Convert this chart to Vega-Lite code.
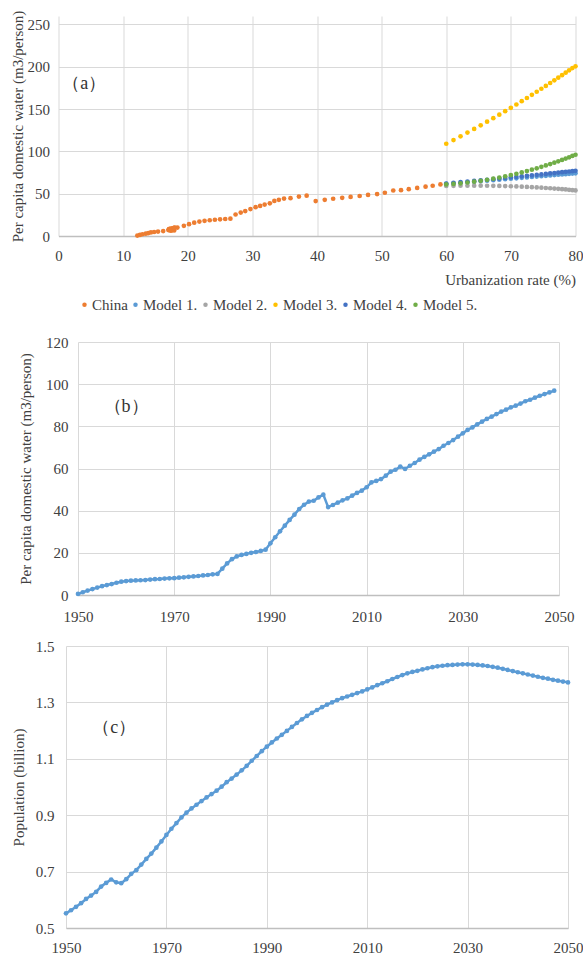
{
  "$schema": "https://vega.github.io/schema/vega-lite/v6.json",
  "padding": {"left": 0, "top": 10, "right": 0, "bottom": 0},
  "background": "white",
  "columns": 1,
  "align": "none",
  "spacing": 15,
  "config": {
    "view": {"stroke": null},
    "font": "Liberation Serif",
    "axis": {
      "labelFont": "Liberation Serif", "labelFontSize": 15, "labelColor": "#404040",
      "titleFont": "Liberation Serif", "titleFontSize": 15, "titleFontWeight": "normal", "titleColor": "#404040",
      "gridColor": "#d9d9d9", "gridWidth": 1, "ticks": false, "tickSize": 0, "domain": false, "labelFlush": false
    },
    "axisX": {"domain": true, "domainColor": "#bfbfbf", "domainWidth": 1.5},
    "legend": {"labelFont": "Liberation Serif", "labelFontSize": 15, "labelColor": "#404040"}
  },
  "datasets": {
    "a": [
      {"series": "China", "rate": 12.2, "water": 0.5},
      {"series": "China", "rate": 12.6, "water": 1.3},
      {"series": "China", "rate": 13.0, "water": 2.1},
      {"series": "China", "rate": 13.5, "water": 2.8},
      {"series": "China", "rate": 13.9, "water": 3.5},
      {"series": "China", "rate": 14.3, "water": 4.2},
      {"series": "China", "rate": 14.8, "water": 4.7},
      {"series": "China", "rate": 15.4, "water": 5.2},
      {"series": "China", "rate": 16.2, "water": 5.8},
      {"series": "China", "rate": 17.4, "water": 6.3},
      {"series": "China", "rate": 17.9, "water": 6.6},
      {"series": "China", "rate": 17.6, "water": 6.8},
      {"series": "China", "rate": 17.2, "water": 6.9},
      {"series": "China", "rate": 17.0, "water": 7.0},
      {"series": "China", "rate": 17.3, "water": 7.1},
      {"series": "China", "rate": 17.4, "water": 7.3},
      {"series": "China", "rate": 17.4, "water": 7.5},
      {"series": "China", "rate": 17.3, "water": 7.6},
      {"series": "China", "rate": 17.2, "water": 7.8},
      {"series": "China", "rate": 17.1, "water": 7.9},
      {"series": "China", "rate": 17.1, "water": 8.0},
      {"series": "China", "rate": 17.2, "water": 8.2},
      {"series": "China", "rate": 17.2, "water": 8.4},
      {"series": "China", "rate": 17.4, "water": 8.6},
      {"series": "China", "rate": 17.5, "water": 8.8},
      {"series": "China", "rate": 17.7, "water": 9.0},
      {"series": "China", "rate": 17.8, "water": 9.3},
      {"series": "China", "rate": 17.9, "water": 9.5},
      {"series": "China", "rate": 18.0, "water": 9.8},
      {"series": "China", "rate": 18.4, "water": 10.0},
      {"series": "China", "rate": 19.4, "water": 12.0},
      {"series": "China", "rate": 20.2, "water": 14.0},
      {"series": "China", "rate": 21.0, "water": 15.8},
      {"series": "China", "rate": 21.8, "water": 17.0},
      {"series": "China", "rate": 22.6, "water": 17.9},
      {"series": "China", "rate": 23.4, "water": 18.6},
      {"series": "China", "rate": 24.2, "water": 19.2},
      {"series": "China", "rate": 25.0, "water": 19.7},
      {"series": "China", "rate": 25.8, "water": 20.1},
      {"series": "China", "rate": 26.6, "water": 20.5},
      {"series": "China", "rate": 27.4, "water": 25.4},
      {"series": "China", "rate": 28.2, "water": 27.7},
      {"series": "China", "rate": 28.9, "water": 29.5},
      {"series": "China", "rate": 29.7, "water": 31.8},
      {"series": "China", "rate": 30.5, "water": 34.1},
      {"series": "China", "rate": 31.2, "water": 35.6},
      {"series": "China", "rate": 31.9, "water": 37.1},
      {"series": "China", "rate": 32.7, "water": 38.6},
      {"series": "China", "rate": 33.4, "water": 41.5},
      {"series": "China", "rate": 34.1, "water": 42.8},
      {"series": "China", "rate": 34.9, "water": 44.2},
      {"series": "China", "rate": 35.9, "water": 44.7},
      {"series": "China", "rate": 37.2, "water": 46.6},
      {"series": "China", "rate": 38.4, "water": 47.7},
      {"series": "China", "rate": 39.8, "water": 41.3},
      {"series": "China", "rate": 41.2, "water": 42.8},
      {"series": "China", "rate": 42.5, "water": 44.0},
      {"series": "China", "rate": 43.9, "water": 45.1},
      {"series": "China", "rate": 45.2, "water": 46.2},
      {"series": "China", "rate": 46.6, "water": 47.3},
      {"series": "China", "rate": 47.9, "water": 48.5},
      {"series": "China", "rate": 49.3, "water": 49.6},
      {"series": "China", "rate": 50.5, "water": 51.1},
      {"series": "China", "rate": 51.8, "water": 53.8},
      {"series": "China", "rate": 53.0, "water": 54.2},
      {"series": "China", "rate": 54.2, "water": 55.3},
      {"series": "China", "rate": 55.5, "water": 56.8},
      {"series": "China", "rate": 56.8, "water": 58.3},
      {"series": "China", "rate": 57.9, "water": 59.4},
      {"series": "China", "rate": 59.1, "water": 61.0},
      {"series": "Model 1.", "rate": 60.00, "water": 61.5},
      {"series": "Model 1.", "rate": 61.12, "water": 62.2},
      {"series": "Model 1.", "rate": 62.21, "water": 62.8},
      {"series": "Model 1.", "rate": 63.28, "water": 63.5},
      {"series": "Model 1.", "rate": 64.32, "water": 64.1},
      {"series": "Model 1.", "rate": 65.33, "water": 64.7},
      {"series": "Model 1.", "rate": 66.32, "water": 65.3},
      {"series": "Model 1.", "rate": 67.28, "water": 65.9},
      {"series": "Model 1.", "rate": 68.21, "water": 66.5},
      {"series": "Model 1.", "rate": 69.12, "water": 67.1},
      {"series": "Model 1.", "rate": 70.00, "water": 67.7},
      {"series": "Model 1.", "rate": 70.85, "water": 68.2},
      {"series": "Model 1.", "rate": 71.68, "water": 68.7},
      {"series": "Model 1.", "rate": 72.48, "water": 69.2},
      {"series": "Model 1.", "rate": 73.25, "water": 69.7},
      {"series": "Model 1.", "rate": 74.00, "water": 70.2},
      {"series": "Model 1.", "rate": 74.72, "water": 70.7},
      {"series": "Model 1.", "rate": 75.41, "water": 71.1},
      {"series": "Model 1.", "rate": 76.08, "water": 71.5},
      {"series": "Model 1.", "rate": 76.72, "water": 72.0},
      {"series": "Model 1.", "rate": 77.33, "water": 72.4},
      {"series": "Model 1.", "rate": 77.92, "water": 72.7},
      {"series": "Model 1.", "rate": 78.48, "water": 73.1},
      {"series": "Model 1.", "rate": 79.01, "water": 73.5},
      {"series": "Model 1.", "rate": 79.52, "water": 73.8},
      {"series": "Model 1.", "rate": 80.00, "water": 74.1},
      {"series": "Model 2.", "rate": 60.00, "water": 59.1},
      {"series": "Model 2.", "rate": 61.12, "water": 59.3},
      {"series": "Model 2.", "rate": 62.21, "water": 59.4},
      {"series": "Model 2.", "rate": 63.28, "water": 59.5},
      {"series": "Model 2.", "rate": 64.32, "water": 59.5},
      {"series": "Model 2.", "rate": 65.33, "water": 59.5},
      {"series": "Model 2.", "rate": 66.32, "water": 59.4},
      {"series": "Model 2.", "rate": 67.28, "water": 59.3},
      {"series": "Model 2.", "rate": 68.21, "water": 59.2},
      {"series": "Model 2.", "rate": 69.12, "water": 59.0},
      {"series": "Model 2.", "rate": 70.00, "water": 58.8},
      {"series": "Model 2.", "rate": 70.85, "water": 58.6},
      {"series": "Model 2.", "rate": 71.68, "water": 58.3},
      {"series": "Model 2.", "rate": 72.48, "water": 58.0},
      {"series": "Model 2.", "rate": 73.25, "water": 57.7},
      {"series": "Model 2.", "rate": 74.00, "water": 57.4},
      {"series": "Model 2.", "rate": 74.72, "water": 57.1},
      {"series": "Model 2.", "rate": 75.41, "water": 56.7},
      {"series": "Model 2.", "rate": 76.08, "water": 56.4},
      {"series": "Model 2.", "rate": 76.72, "water": 56.0},
      {"series": "Model 2.", "rate": 77.33, "water": 55.7},
      {"series": "Model 2.", "rate": 77.92, "water": 55.3},
      {"series": "Model 2.", "rate": 78.48, "water": 55.0},
      {"series": "Model 2.", "rate": 79.01, "water": 54.6},
      {"series": "Model 2.", "rate": 79.52, "water": 54.2},
      {"series": "Model 2.", "rate": 80.00, "water": 53.9},
      {"series": "Model 3.", "rate": 60.00, "water": 109.0},
      {"series": "Model 3.", "rate": 61.12, "water": 113.4},
      {"series": "Model 3.", "rate": 62.21, "water": 117.8},
      {"series": "Model 3.", "rate": 63.28, "water": 122.2},
      {"series": "Model 3.", "rate": 64.32, "water": 126.5},
      {"series": "Model 3.", "rate": 65.33, "water": 130.8},
      {"series": "Model 3.", "rate": 66.32, "water": 135.1},
      {"series": "Model 3.", "rate": 67.28, "water": 139.3},
      {"series": "Model 3.", "rate": 68.21, "water": 143.4},
      {"series": "Model 3.", "rate": 69.12, "water": 147.5},
      {"series": "Model 3.", "rate": 70.00, "water": 151.5},
      {"series": "Model 3.", "rate": 70.85, "water": 155.4},
      {"series": "Model 3.", "rate": 71.68, "water": 159.3},
      {"series": "Model 3.", "rate": 72.48, "water": 163.1},
      {"series": "Model 3.", "rate": 73.25, "water": 166.8},
      {"series": "Model 3.", "rate": 74.00, "water": 170.5},
      {"series": "Model 3.", "rate": 74.72, "water": 174.0},
      {"series": "Model 3.", "rate": 75.41, "water": 177.4},
      {"series": "Model 3.", "rate": 76.08, "water": 180.8},
      {"series": "Model 3.", "rate": 76.72, "water": 184.0},
      {"series": "Model 3.", "rate": 77.33, "water": 187.1},
      {"series": "Model 3.", "rate": 77.92, "water": 190.1},
      {"series": "Model 3.", "rate": 78.48, "water": 193.0},
      {"series": "Model 3.", "rate": 79.01, "water": 195.8},
      {"series": "Model 3.", "rate": 79.52, "water": 198.5},
      {"series": "Model 3.", "rate": 80.00, "water": 200.5},
      {"series": "Model 4.", "rate": 60.00, "water": 62.0},
      {"series": "Model 4.", "rate": 61.12, "water": 62.8},
      {"series": "Model 4.", "rate": 62.21, "water": 63.6},
      {"series": "Model 4.", "rate": 63.28, "water": 64.3},
      {"series": "Model 4.", "rate": 64.32, "water": 65.1},
      {"series": "Model 4.", "rate": 65.33, "water": 65.8},
      {"series": "Model 4.", "rate": 66.32, "water": 66.5},
      {"series": "Model 4.", "rate": 67.28, "water": 67.2},
      {"series": "Model 4.", "rate": 68.21, "water": 67.9},
      {"series": "Model 4.", "rate": 69.12, "water": 68.6},
      {"series": "Model 4.", "rate": 70.00, "water": 69.3},
      {"series": "Model 4.", "rate": 70.85, "water": 69.9},
      {"series": "Model 4.", "rate": 71.68, "water": 70.5},
      {"series": "Model 4.", "rate": 72.48, "water": 71.1},
      {"series": "Model 4.", "rate": 73.25, "water": 71.7},
      {"series": "Model 4.", "rate": 74.00, "water": 72.3},
      {"series": "Model 4.", "rate": 74.72, "water": 72.8},
      {"series": "Model 4.", "rate": 75.41, "water": 73.4},
      {"series": "Model 4.", "rate": 76.08, "water": 73.9},
      {"series": "Model 4.", "rate": 76.72, "water": 74.4},
      {"series": "Model 4.", "rate": 77.33, "water": 74.9},
      {"series": "Model 4.", "rate": 77.92, "water": 75.4},
      {"series": "Model 4.", "rate": 78.48, "water": 75.8},
      {"series": "Model 4.", "rate": 79.01, "water": 76.2},
      {"series": "Model 4.", "rate": 79.52, "water": 76.6},
      {"series": "Model 4.", "rate": 80.00, "water": 77.0},
      {"series": "Model 5.", "rate": 60.00, "water": 61.0},
      {"series": "Model 5.", "rate": 61.12, "water": 61.6},
      {"series": "Model 5.", "rate": 62.21, "water": 62.3},
      {"series": "Model 5.", "rate": 63.28, "water": 63.2},
      {"series": "Model 5.", "rate": 64.32, "water": 64.2},
      {"series": "Model 5.", "rate": 65.33, "water": 65.2},
      {"series": "Model 5.", "rate": 66.32, "water": 66.4},
      {"series": "Model 5.", "rate": 67.28, "water": 67.7},
      {"series": "Model 5.", "rate": 68.21, "water": 69.1},
      {"series": "Model 5.", "rate": 69.12, "water": 70.5},
      {"series": "Model 5.", "rate": 70.00, "water": 72.0},
      {"series": "Model 5.", "rate": 70.85, "water": 73.5},
      {"series": "Model 5.", "rate": 71.68, "water": 75.1},
      {"series": "Model 5.", "rate": 72.48, "water": 76.7},
      {"series": "Model 5.", "rate": 73.25, "water": 78.4},
      {"series": "Model 5.", "rate": 74.00, "water": 80.0},
      {"series": "Model 5.", "rate": 74.72, "water": 81.7},
      {"series": "Model 5.", "rate": 75.41, "water": 83.4},
      {"series": "Model 5.", "rate": 76.08, "water": 85.0},
      {"series": "Model 5.", "rate": 76.72, "water": 86.7},
      {"series": "Model 5.", "rate": 77.33, "water": 88.3},
      {"series": "Model 5.", "rate": 77.92, "water": 89.9},
      {"series": "Model 5.", "rate": 78.48, "water": 91.5},
      {"series": "Model 5.", "rate": 79.01, "water": 93.0},
      {"series": "Model 5.", "rate": 79.52, "water": 94.6},
      {"series": "Model 5.", "rate": 80.00, "water": 96.0}
    ],
    "b": [
      {"year": 1950, "water": 0.5}, {"year": 1951, "water": 1.3}, {"year": 1952, "water": 2.1}, {"year": 1953, "water": 2.8},
      {"year": 1954, "water": 3.5}, {"year": 1955, "water": 4.2}, {"year": 1956, "water": 4.7}, {"year": 1957, "water": 5.2},
      {"year": 1958, "water": 5.8}, {"year": 1959, "water": 6.3}, {"year": 1960, "water": 6.6}, {"year": 1961, "water": 6.8},
      {"year": 1962, "water": 6.9}, {"year": 1963, "water": 7.0}, {"year": 1964, "water": 7.1}, {"year": 1965, "water": 7.3},
      {"year": 1966, "water": 7.5}, {"year": 1967, "water": 7.6}, {"year": 1968, "water": 7.8}, {"year": 1969, "water": 7.9},
      {"year": 1970, "water": 8.0}, {"year": 1971, "water": 8.2}, {"year": 1972, "water": 8.4}, {"year": 1973, "water": 8.6},
      {"year": 1974, "water": 8.8}, {"year": 1975, "water": 9.0}, {"year": 1976, "water": 9.3}, {"year": 1977, "water": 9.5},
      {"year": 1978, "water": 9.8}, {"year": 1979, "water": 10.0}, {"year": 1980, "water": 12.5}, {"year": 1981, "water": 15.0},
      {"year": 1982, "water": 17.0}, {"year": 1983, "water": 18.3}, {"year": 1984, "water": 19.0}, {"year": 1985, "water": 19.5},
      {"year": 1986, "water": 20.0}, {"year": 1987, "water": 20.4}, {"year": 1988, "water": 20.9}, {"year": 1989, "water": 21.5},
      {"year": 1990, "water": 24.5}, {"year": 1991, "water": 27.4}, {"year": 1992, "water": 30.2}, {"year": 1993, "water": 32.9},
      {"year": 1994, "water": 35.6}, {"year": 1995, "water": 38.1}, {"year": 1996, "water": 40.8}, {"year": 1997, "water": 42.8},
      {"year": 1998, "water": 44.3}, {"year": 1999, "water": 44.7}, {"year": 2000, "water": 46.3}, {"year": 2001, "water": 47.6},
      {"year": 2002, "water": 41.7}, {"year": 2003, "water": 42.7}, {"year": 2004, "water": 43.8}, {"year": 2005, "water": 44.9},
      {"year": 2006, "water": 45.8}, {"year": 2007, "water": 47.1}, {"year": 2008, "water": 48.4}, {"year": 2009, "water": 49.5},
      {"year": 2010, "water": 51.1}, {"year": 2011, "water": 53.4}, {"year": 2012, "water": 54.1}, {"year": 2013, "water": 55.0},
      {"year": 2014, "water": 56.6}, {"year": 2015, "water": 58.5}, {"year": 2016, "water": 59.4}, {"year": 2017, "water": 60.9},
      {"year": 2018, "water": 59.8}, {"year": 2019, "water": 61.3}, {"year": 2020, "water": 62.6}, {"year": 2021, "water": 64.2},
      {"year": 2022, "water": 65.5}, {"year": 2023, "water": 66.7}, {"year": 2024, "water": 68.0}, {"year": 2025, "water": 69.2},
      {"year": 2026, "water": 70.8}, {"year": 2027, "water": 72.1}, {"year": 2028, "water": 73.5}, {"year": 2029, "water": 75.1},
      {"year": 2030, "water": 76.7}, {"year": 2031, "water": 78.3}, {"year": 2032, "water": 79.5}, {"year": 2033, "water": 80.9},
      {"year": 2034, "water": 82.2}, {"year": 2035, "water": 83.5}, {"year": 2036, "water": 84.6}, {"year": 2037, "water": 85.8},
      {"year": 2038, "water": 87.0}, {"year": 2039, "water": 87.9}, {"year": 2040, "water": 89.0}, {"year": 2041, "water": 89.8},
      {"year": 2042, "water": 90.8}, {"year": 2043, "water": 91.9}, {"year": 2044, "water": 92.6}, {"year": 2045, "water": 93.6},
      {"year": 2046, "water": 94.5}, {"year": 2047, "water": 95.3}, {"year": 2048, "water": 96.1}, {"year": 2049, "water": 96.9}
    ],
    "c": [
      {"year": 1950, "pop": 0.552}, {"year": 1951, "pop": 0.563}, {"year": 1952, "pop": 0.575}, {"year": 1953, "pop": 0.588},
      {"year": 1954, "pop": 0.603}, {"year": 1955, "pop": 0.615}, {"year": 1956, "pop": 0.628}, {"year": 1957, "pop": 0.647},
      {"year": 1958, "pop": 0.660}, {"year": 1959, "pop": 0.672}, {"year": 1960, "pop": 0.662}, {"year": 1961, "pop": 0.659},
      {"year": 1962, "pop": 0.673}, {"year": 1963, "pop": 0.692}, {"year": 1964, "pop": 0.705}, {"year": 1965, "pop": 0.725},
      {"year": 1966, "pop": 0.745}, {"year": 1967, "pop": 0.764}, {"year": 1968, "pop": 0.785}, {"year": 1969, "pop": 0.807},
      {"year": 1970, "pop": 0.830}, {"year": 1971, "pop": 0.852}, {"year": 1972, "pop": 0.872}, {"year": 1973, "pop": 0.892},
      {"year": 1974, "pop": 0.909}, {"year": 1975, "pop": 0.924}, {"year": 1976, "pop": 0.937}, {"year": 1977, "pop": 0.950},
      {"year": 1978, "pop": 0.963}, {"year": 1979, "pop": 0.975}, {"year": 1980, "pop": 0.987}, {"year": 1981, "pop": 1.001},
      {"year": 1982, "pop": 1.017}, {"year": 1983, "pop": 1.030}, {"year": 1984, "pop": 1.044}, {"year": 1985, "pop": 1.059},
      {"year": 1986, "pop": 1.075}, {"year": 1987, "pop": 1.093}, {"year": 1988, "pop": 1.110}, {"year": 1989, "pop": 1.127},
      {"year": 1990, "pop": 1.143}, {"year": 1991, "pop": 1.158}, {"year": 1992, "pop": 1.172}, {"year": 1993, "pop": 1.185},
      {"year": 1994, "pop": 1.199}, {"year": 1995, "pop": 1.213}, {"year": 1996, "pop": 1.227}, {"year": 1997, "pop": 1.240},
      {"year": 1998, "pop": 1.252}, {"year": 1999, "pop": 1.263}, {"year": 2000, "pop": 1.273}, {"year": 2001, "pop": 1.283},
      {"year": 2002, "pop": 1.292}, {"year": 2003, "pop": 1.300}, {"year": 2004, "pop": 1.308}, {"year": 2005, "pop": 1.315},
      {"year": 2006, "pop": 1.321}, {"year": 2007, "pop": 1.327}, {"year": 2008, "pop": 1.333}, {"year": 2009, "pop": 1.339},
      {"year": 2010, "pop": 1.346}, {"year": 2011, "pop": 1.353}, {"year": 2012, "pop": 1.361}, {"year": 2013, "pop": 1.368},
      {"year": 2014, "pop": 1.375}, {"year": 2015, "pop": 1.383}, {"year": 2016, "pop": 1.390}, {"year": 2017, "pop": 1.397},
      {"year": 2018, "pop": 1.403}, {"year": 2019, "pop": 1.408}, {"year": 2020, "pop": 1.412}, {"year": 2021, "pop": 1.417},
      {"year": 2022, "pop": 1.421}, {"year": 2023, "pop": 1.425}, {"year": 2024, "pop": 1.428}, {"year": 2025, "pop": 1.430},
      {"year": 2026, "pop": 1.432}, {"year": 2027, "pop": 1.433}, {"year": 2028, "pop": 1.434}, {"year": 2029, "pop": 1.435},
      {"year": 2030, "pop": 1.435}, {"year": 2031, "pop": 1.434}, {"year": 2032, "pop": 1.433}, {"year": 2033, "pop": 1.431},
      {"year": 2034, "pop": 1.429}, {"year": 2035, "pop": 1.426}, {"year": 2036, "pop": 1.423}, {"year": 2037, "pop": 1.419},
      {"year": 2038, "pop": 1.415}, {"year": 2039, "pop": 1.411}, {"year": 2040, "pop": 1.407}, {"year": 2041, "pop": 1.403},
      {"year": 2042, "pop": 1.399}, {"year": 2043, "pop": 1.395}, {"year": 2044, "pop": 1.391}, {"year": 2045, "pop": 1.387},
      {"year": 2046, "pop": 1.384}, {"year": 2047, "pop": 1.380}, {"year": 2048, "pop": 1.377}, {"year": 2049, "pop": 1.374},
      {"year": 2050, "pop": 1.371}
    ]
  },
  "concat": [
    {
      "columns": 1,
      "align": "none",
      "spacing": 48,
      "concat": [
        {
          "spacing": 8.5,
          "hconcat": [
            {"width": 1, "height": 1, "data": {"values": []}, "mark": "point"},
            {
              "width": 517,
              "height": 220,
              "layer": [
                {
                  "data": {"name": "a"},
                  "mark": {"type": "point", "filled": true, "opacity": 1, "size": 22},
                  "encoding": {
                    "x": {"field": "rate", "type": "quantitative", "scale": {"domain": [0, 80]},
                          "axis": {"values": [0, 10, 20, 30, 40, 50, 60, 70, 80], "title": "Urbanization rate (%)", "titleAnchor": "end", "labelPadding": 12, "titlePadding": 9}},
                    "y": {"field": "water", "type": "quantitative", "scale": {"domain": [0, 250]},
                          "axis": {"values": [0, 50, 100, 150, 200, 250], "title": "Per capita domestic water (m3/person)", "labelPadding": 9, "titlePadding": 2}},
                    "color": {"field": "series", "type": "nominal",
                              "scale": {"domain": ["China", "Model 1.", "Model 2.", "Model 3.", "Model 4.", "Model 5."],
                                        "range": ["#ED7D31", "#5B9BD5", "#A5A5A5", "#FFC000", "#4472C4", "#70AD47"]},
                              "legend": {"orient": "none", "legendX": 70, "legendY": 274, "direction": "horizontal", "title": null,
                                         "symbolType": "circle", "symbolSize": 20, "symbolStrokeWidth": 0, "labelOffset": 0, "columnPadding": 0, "padding": 7}}
                  }
                },
                {
                  "data": {"values": [{"label": "（a）"}]},
                  "mark": {"type": "text", "fontSize": 18, "font": "Liberation Serif", "color": "#333333"},
                  "encoding": {"x": {"datum": 4}, "y": {"datum": 180}, "text": {"field": "label"}}
                }
              ]
            }
          ]
        },
        {
          "spacing": 17,
          "hconcat": [
            {"width": 1, "height": 1, "data": {"values": []}, "mark": "point"},
            {
              "width": 481,
              "height": 253,
              "layer": [
                {
                  "data": {"name": "b"},
                  "mark": {"type": "line", "color": "#5B9BD5", "strokeWidth": 2.5, "point": {"filled": true, "size": 22, "color": "#5B9BD5"}},
                  "encoding": {
                    "x": {"field": "year", "type": "quantitative", "scale": {"domain": [1950, 2050]},
                          "axis": {"values": [1950, 1970, 1990, 2010, 2030, 2050], "format": "d", "title": null, "labelPadding": 14}},
                    "y": {"field": "water", "type": "quantitative", "scale": {"domain": [0, 120]},
                          "axis": {"values": [0, 20, 40, 60, 80, 100, 120], "title": "Per capita domestic water (m3/person)", "labelPadding": 10, "titlePadding": 12.5}}
                  }
                },
                {
                  "data": {"values": [{"label": "（b）"}]},
                  "mark": {"type": "text", "fontSize": 18, "font": "Liberation Serif", "color": "#333333"},
                  "encoding": {"x": {"datum": 1960}, "y": {"datum": 89}, "text": {"field": "label"}}
                }
              ]
            }
          ]
        }
      ]
    },
    {
      "spacing": 10,
      "hconcat": [
        {"width": 1, "height": 1, "data": {"values": []}, "mark": "point"},
        {
          "width": 502,
          "height": 282,
          "layer": [
            {
              "data": {"name": "c"},
              "mark": {"type": "line", "color": "#5B9BD5", "strokeWidth": 2.5, "point": {"filled": true, "size": 22, "color": "#5B9BD5"}},
              "encoding": {
                "x": {"field": "year", "type": "quantitative", "scale": {"domain": [1950, 2050]},
                      "axis": {"values": [1950, 1970, 1990, 2010, 2030, 2050], "format": "d", "title": null, "labelPadding": 12}},
                "y": {"field": "pop", "type": "quantitative", "scale": {"domain": [0.5, 1.5], "zero": false},
                      "axis": {"values": [0.5, 0.7, 0.9, 1.1, 1.3, 1.5], "format": ".1f", "title": "Population (billion)", "labelPadding": 12, "titlePadding": 9.25}}
              }
            },
            {
              "data": {"values": [{"label": "（c）"}]},
              "mark": {"type": "text", "fontSize": 18, "font": "Liberation Serif", "color": "#333333"},
              "encoding": {"x": {"datum": 1959.6}, "y": {"datum": 1.208}, "text": {"field": "label"}}
            }
          ]
        }
      ]
    }
  ]
}
